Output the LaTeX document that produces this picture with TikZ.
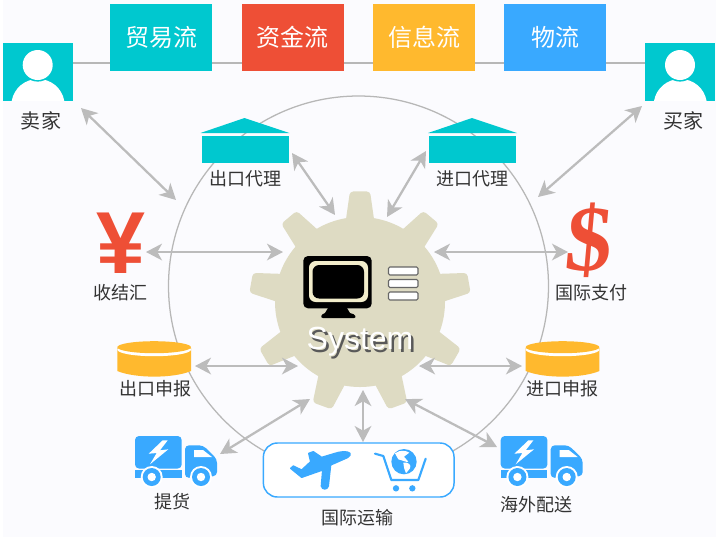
\documentclass[tikz,border=0pt]{standalone}
\usepackage{fontspec}
\setmainfont{Noto Sans CJK SC}
\newfontfamily\latinsans{Liberation Sans}
\newfontfamily\latinserif{Liberation Serif}
\usetikzlibrary{arrows.meta}
\definecolor{pagebg}{HTML}{FBFBFE}
\definecolor{teal}{HTML}{00C8CF}
\definecolor{redbox}{HTML}{EE4F36}
\definecolor{yellowbox}{HTML}{FFB92E}
\definecolor{bluebox}{HTML}{39A9FF}
\definecolor{linegray}{HTML}{B7B7B7}
\definecolor{arrowgray}{HTML}{BCBCBC}
\definecolor{geargray}{HTML}{DEDBC3}
\definecolor{screenring}{HTML}{F2EDCB}
\definecolor{txt}{HTML}{333333}
\tikzset{
  flowbox/.style={minimum width=76.5pt,minimum height=50.25pt,inner sep=0pt,text=white,font=\fontsize{18}{18}\selectfont},
  lbl/.style={text=txt,inner sep=0pt,font=\fontsize{13.5}{14}\selectfont},
  biarrow/.style={draw=arrowgray,line width=1.7pt,{Stealth[length=12pt,width=12.5pt,inset=3.5pt]}-{Stealth[length=12pt,width=12.5pt,inset=3.5pt]}},
  personbox/.style={fill=teal,minimum width=52.5pt,minimum height=43.5pt,inner sep=0pt},
}
\newcommand{\persondraw}[2]{%
  \begin{scope}[shift={(#1,#2)}]
    \fill[white] (11.7,101) .. controls (14,88) and (25,79) .. (38,79) .. controls (51,79) and (62,88) .. (64.3,101) -- cycle;
    \fill[teal] (37.7,65) circle[radius=16.6];
    \fill[white] (37.7,65) circle[radius=15];
  \end{scope}}
\newcommand{\housedraw}[1]{%
  \begin{scope}[shift={(#1,0)}]
    \fill[teal] (0,133) -- (44,118) -- (89,133) -- cycle;
    \fill[teal] (1,136) rectangle (88,162.5);
  \end{scope}}
\newcommand{\drumdraw}[1]{%
  \begin{scope}[shift={(#1,0)}]
    \fill[yellowbox] (0,348) -- (0,371) .. controls (18,378.5) and (56,378.5) .. (73.7,371) -- (73.7,348) -- cycle;
    \fill[white] (36.85,349.6) ellipse[x radius=36.85,y radius=6.6];
    \fill[yellowbox] (36.85,347.2) ellipse[x radius=36.85,y radius=6];
  \end{scope}}
\newcommand{\truckdraw}[2]{%
  \begin{scope}[shift={(#1,#2)}]
    \fill[bluebox,rounded corners=3pt] (0,32.5) -- (0,0) -- (46.7,0) -- (46.7,32.5) -- cycle;
    \fill[bluebox] (0,34) -- (46.7,34) -- (46.7,42) -- (0,42) -- cycle;
    \fill[bluebox,rounded corners=3pt] (50,42) -- (50,9.3) -- (68,9.3) -- (82,23) -- (82,40) -- cycle;
    \fill[white] (59,14) -- (68,14) -- (77,21) -- (59,21) -- cycle;
    \foreach \wx in {16.7,66}{
      \fill[white] (\wx,41) circle[radius=11];
      \fill[bluebox] (\wx,41) circle[radius=9];
      \fill[white] (\wx,41) circle[radius=4.2];
    }
    \fill[white] (27.7,4.3) -- (13.7,17.7) -- (21.7,17) -- (15,28.3) -- (33.3,13.3) -- (25,14.3) -- (32.7,4.3) -- cycle;
  \end{scope}}
\begin{document}
\begin{tikzpicture}[x=0.75pt,y=-0.75pt]
\useasboundingbox (0,0) rectangle (720,537);
\fill[white] (0,0) rectangle (720,537);
\fill[pagebg] (3,0) rectangle (716,537);

% big ring and top line
\draw[linegray,line width=0.95pt] (358.5,286) circle[radius=190];
\coordinate (lineL) at (73,63);
\coordinate (lineR) at (645,63);
\draw[linegray,line width=0.95pt] (lineL) -- (lineR);

% flow boxes
\node[flowbox,fill=teal] (trade) at (161,37) {贸易流};
\node[flowbox,fill=redbox] (fund) at (292.5,37) {资金流};
\node[flowbox,fill=yellowbox] (info) at (424,37) {信息流};
\node[flowbox,fill=bluebox] (logi) at (555.3,37) {物流};

% persons
\node[personbox] (sellerbox) at (38,72) {};
\persondraw{0}{0}
\node[personbox] (buyerbox) at (680,72) {};
\persondraw{642.3}{0}
\node[lbl,font=\fontsize{15}{15}\selectfont] (seller) at (41,121) {卖家};
\node[lbl,font=\fontsize{15}{15}\selectfont] (buyer) at (683,121) {买家};

% houses
\housedraw{200.5}
\housedraw{428}
\node[lbl] (expagent) at (245,179) {出口代理};
\node[lbl] (impagent) at (472,179) {进口代理};

% currency
\node[inner sep=0pt,text=redbox,font=\latinsans\bfseries\fontsize{66}{66}\selectfont] (yen) at (120.5,243) {¥};
\node[inner sep=0pt,text=redbox,xslant=0.09,font=\latinserif\bfseries\fontsize{70}{70}\selectfont] (dollar) at (589.5,240) {\$};
\node[lbl] (settle) at (120.7,292.7) {收结汇};
\node[lbl] (intpay) at (591,292.7) {国际支付};

% drums
\drumdraw{117.3}
\drumdraw{525.7}
\node[lbl] (expdecl) at (155,389) {出口申报};
\node[lbl] (impdecl) at (562.7,389) {进口申报};

% trucks
\truckdraw{135}{436}
\truckdraw{500.7}{436}
\node[lbl] (pickup) at (172,502) {提货};
\node[lbl] (overseas) at (536.7,505) {海外配送};

% gear
\fill[geargray] (360,302) circle[radius=85];
\foreach \a in {0,40,...,320}{
  \fill[geargray,rounded corners=2.5pt]
    ({360+78*sin(\a-11)},{302-78*cos(\a-11)}) --
    ({360+111*sin(\a-5.2)},{302-111*cos(\a-5.2)}) --
    ({360+111*sin(\a+5.2)},{302-111*cos(\a+5.2)}) --
    ({360+78*sin(\a+11)},{302-78*cos(\a+11)}) -- cycle;
}
% monitor
\fill[black,rounded corners=3.5pt] (303.3,256) rectangle (371.7,308.3);
\fill[screenring,rounded corners=5pt] (309,261) rectangle (368,302);
\fill[black,rounded corners=5pt] (312.5,265) rectangle (364,298.5);
\fill[black] (328,308) -- (347,308) -- (350,313) .. controls (356,314) and (357,318) .. (354,318) -- (323,318) .. controls (320,318) and (321,314) .. (325,313) -- cycle;
\foreach \yy in {267,279.5,292}{
  \draw[draw=black!60,fill=white,line width=0.8pt,rounded corners=1pt] (388.5,\yy) rectangle (418,\yy+8);
}
\node[inner sep=0pt,text=white,font=\latinsans\fontsize{24}{24}\selectfont] (system) at (360,343)
  {\rlap{\hspace{1.8pt}\raisebox{-1.8pt}{\textcolor{black!65}{System}}}System};

% transport box
\node[draw=bluebox,fill=white,line width=1.1pt,rounded corners=10.5pt,minimum width=143pt,minimum height=40.5pt,inner sep=0pt] (transport) at (358.7,470) {};
\begin{scope}[shift={(260,420)},x=0.25pt,y=-0.25pt]
  \fill[bluebox,draw=bluebox,line width=1pt,line join=round]
    (270,100) .. controls (262,92) and (240,95) .. (225,100) -- (185,112) -- (160,95) -- (146,100) -- (152,125) -- (125,150) -- (100,138) -- (92,145) -- (125,172) -- (188,150) -- (184,198) .. controls (186,210) and (202,210) .. (205,198) -- (212,135) -- (262,113) .. controls (270,108) and (272,104) .. (270,100) -- cycle;
  \draw[bluebox,line width=1.6pt,line join=round,line cap=round] (345,101) -- (370,108) -- (394,180) -- (475,180) -- (497,116);
  \fill[bluebox] (408,205) circle[radius=9.5];
  \fill[bluebox] (457,205) circle[radius=9.5];
  \fill[white] (432,125) circle[radius=43];
  \fill[bluebox] (432,125) circle[radius=38];
  \fill[white] (405,100) .. controls (420,88) and (440,92) .. (448,98) -- (432,110) -- (445,125) .. controls (440,128) and (425,120) .. (415,118) -- cycle;
  \fill[white] (430,128) .. controls (445,125) and (455,135) .. (450,145) -- (438,160) .. controls (432,150) and (432,140) .. (430,128) -- cycle;
\end{scope}
\node[lbl] (shipping) at (357.3,517.7) {国际运输};

% connector ends
\coordinate (c1a) at (81,108);   \coordinate (c1b) at (176,200);
\coordinate (c2a) at (292,153);  \coordinate (c2b) at (335,215);
\coordinate (c3a) at (426,151);  \coordinate (c3b) at (387,217);
\coordinate (c4a) at (642,106);  \coordinate (c4b) at (538,197);
\coordinate (c5a) at (146,252);  \coordinate (c5b) at (283,252);
\coordinate (c6a) at (434,252);  \coordinate (c6b) at (568,252);
\coordinate (c7a) at (195,366);  \coordinate (c7b) at (298,366);
\coordinate (c8a) at (419,366);  \coordinate (c8b) at (522,366);
\coordinate (c9a) at (220,454);  \coordinate (c9b) at (310,399);
\coordinate (c10a) at (405,399); \coordinate (c10b) at (497,447);
\coordinate (c11a) at (363,390); \coordinate (c11b) at (363,442);
\foreach \kk in {1,...,11}{
  \draw[biarrow] (c\kk a) -- (c\kk b);
}
\end{tikzpicture}
\end{document}
